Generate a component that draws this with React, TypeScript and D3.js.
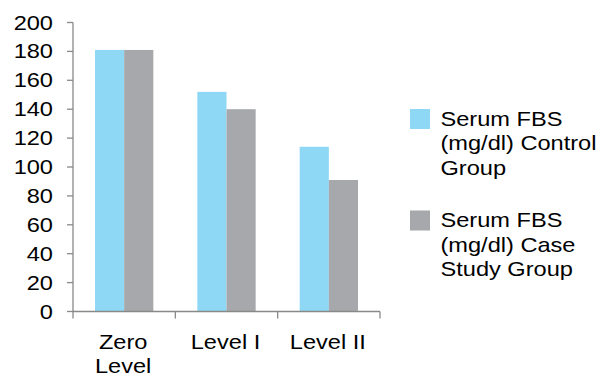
import * as d3 from "d3";

const categories = [["Zero", "Level"], ["Level I"], ["Level II"]];
const seriesNames = [
  ["Serum FBS", "(mg/dl) Control", "Group"],
  ["Serum FBS", "(mg/dl) Case", "Study Group"],
];
const controlValues = [181, 152, 114];
const caseValues = [181, 140, 91];
const yTicks = [0, 20, 40, 60, 80, 100, 120, 140, 160, 180, 200];
const colors = ["#8ed8f6", "#a7a8ab"];

// the reference text is stretched horizontally
const SX = 1.18;
const FS = 20;

function Label({ x, y, anchor, children }: { x: number; y: number; anchor: string; children: string }) {
  return (
    <text
      transform={`translate(${x},${y}) scale(${SX},1)`}
      textAnchor={anchor}
      fontSize={FS}
      fill="#000"
    >
      {children}
    </text>
  );
}

export default function App() {
  const width = 600;
  const height = 379;
  const left = 73;
  const right = 380;
  const top = 22.5;
  const bottom = 311.5;

  const keys = categories.map((c) => c.join(" "));
  const x = d3.scaleBand().domain(keys).range([left, right]).paddingInner(0.43).paddingOuter(0.215);
  const xi = d3.scaleBand().domain(["control", "case"]).range([0, x.bandwidth()]);
  const y = d3.scaleLinear().domain([0, 200]).range([bottom, top]);
  const step = x.step();
  const boundaries = d3.range(keys.length + 1).map((i) => left + i * step);
  const series = [controlValues, caseValues];
  const axisColor = "#898989";

  return (
    <svg
      width={width}
      height={height}
      style={{ position: "absolute", left: 0, top: 0, background: "#fff", fontFamily: "'Liberation Sans', Arial, sans-serif" }}
    >
      {series.map((vals, si) =>
        vals.map((v, i) => (
          <rect
            key={`${si}-${i}`}
            x={x(keys[i])! + xi(si === 0 ? "control" : "case")!}
            y={y(v)}
            width={xi.bandwidth()}
            height={y(0) - y(v)}
            fill={colors[si]}
          />
        ))
      )}
      {/* y axis */}
      <line x1={left} x2={left} y1={y(200)} y2={y(0)} stroke={axisColor} strokeWidth={1.3} />
      {yTicks.map((t) => (
        <g key={t}>
          <line x1={left - 6} x2={left} y1={y(t)} y2={y(t)} stroke={axisColor} strokeWidth={1.3} />
          <Label x={53} y={y(t) + 7} anchor="end">{String(t)}</Label>
        </g>
      ))}
      {/* x axis */}
      <line x1={left} x2={right} y1={y(0)} y2={y(0)} stroke={axisColor} strokeWidth={1.3} />
      {boundaries.map((b, i) => (
        <line key={i} x1={b} x2={b} y1={y(0)} y2={y(0) + 7} stroke={axisColor} strokeWidth={1.3} />
      ))}
      {categories.map((lines, i) =>
        lines.map((ln, j) => (
          <Label key={`${i}-${j}`} x={x(keys[i])! + x.bandwidth() / 2 - 1} y={349 + j * 24} anchor="middle">
            {ln}
          </Label>
        ))
      )}
      {/* legend */}
      {seriesNames.map((lines, si) => (
        <g key={si}>
          <rect x={410} y={109 + si * 101.5} width={20} height={20} fill={colors[si]} />
          {lines.map((ln, j) => (
            <Label key={j} x={440.5} y={126 + si * 101.3 + j * 24.3} anchor="start">
              {ln}
            </Label>
          ))}
        </g>
      ))}
    </svg>
  );
}
